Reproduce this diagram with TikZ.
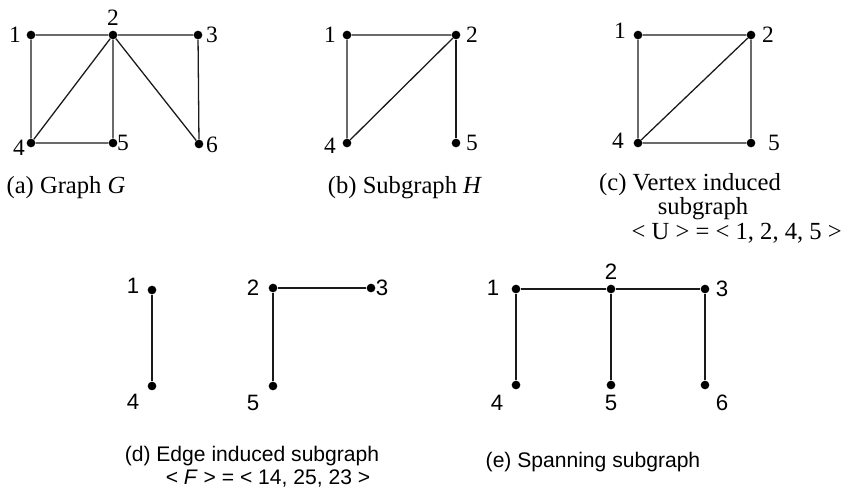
\documentclass[tikz,border=0pt]{standalone}
\usepackage{fontspec}
\setmainfont{Liberation Serif}
\setsansfont{Liberation Sans}
\usepackage{tikz}
\usetikzlibrary{positioning}
\definecolor{gInk}{HTML}{1A1A1A}
\tikzset{
  % Vertex dot
  vtx/.style={circle,fill=black,inner sep=0pt,minimum size=7.4pt},
  % Edge line
  edg/.style={line width=1.1pt,color=gInk},
  % Vertex numbers (serif, top row)
  numt/.style={inner sep=0pt,font=\fontsize{20}{24}\selectfont},
  % Vertex numbers (sans, bottom row)
  numb/.style={inner sep=0pt,font=\sffamily\fontsize{19}{22}\selectfont},
  % Captions
  capt/.style={inner sep=0pt,font=\fontsize{21}{25}\selectfont},
  capb/.style={inner sep=0pt,font=\sffamily\fontsize{18}{22}\selectfont},
}
\begin{document}
\begin{tikzpicture}[x=0.03cm,y=-0.03cm]
  \useasboundingbox (0,0) rectangle (843,499);

  % (a) graph G
  \node[vtx] (a1) at (31,35) {};
  \node[vtx] (a2) at (113,35) {};
  \node[vtx] (a3) at (198,35) {};
  \node[vtx] (a4) at (31,143) {};
  \node[vtx] (a5) at (113,143) {};
  \node[vtx] (a6) at (199,144) {};
  \node[numt] (a1l) at (15,35) {1};
  \node[numt] (a2l) at (113,18) {2};
  \node[numt] (a3l) at (212,35) {3};
  \node[numt] (a4l) at (19,148) {4};
  \node[numt] (a5l) at (123,143) {5};
  \node[numt] (a6l) at (212,145) {6};
  \draw[edg] (a1) -- (a2) -- (a3) -- (a6);
  \draw[edg] (a1) -- (a4) -- (a5) -- (a2) -- (a4);
  \draw[edg] (a2) -- (a6);
  \node[capt] (capa) at (66,188) {(a) Graph \textit{G}};

  % (b) subgraph H
  \node[vtx] (b1) at (347,35) {};
  \node[vtx] (b2) at (456,35) {};
  \node[vtx] (b4) at (347,143) {};
  \node[vtx] (b5) at (456,143) {};
  \node[numt] (b1l) at (330,35) {1};
  \node[numt] (b2l) at (472,35) {2};
  \node[numt] (b4l) at (330,146) {4};
  \node[numt] (b5l) at (472,143) {5};
  \draw[edg] (b4) -- (b1) -- (b2) -- (b4);
  \draw[edg] (b2) -- (b5);
  \node[capt] (capb) at (405,188) {(b) Subgraph \textit{H}};

  % (c) vertex induced subgraph
  \node[vtx] (c1) at (638,35) {};
  \node[vtx] (c2) at (751,35) {};
  \node[vtx] (c4) at (638,143) {};
  \node[vtx] (c5) at (751,143) {};
  \node[numt] (c1l) at (620,31) {1};
  \node[numt] (c2l) at (768,35) {2};
  \node[numt] (c4l) at (618,141) {4};
  \node[numt] (c5l) at (774,143) {5};
  \draw[edg] (c4) -- (c1) -- (c2) -- (c5) -- (c4) -- (c2);
  \node[capt] (capc1) at (690,185) {(c) Vertex induced};
  \node[capt] (capc2) at (703,209) {subgraph};
  \node[capt,anchor=east] (capc3) at (842,233) {< U > = < 1, 2, 4, 5 >};

  % (d) edge induced subgraph
  \node[vtx] (d1) at (152,290) {};
  \node[vtx] (d4) at (152,386) {};
  \node[vtx] (d2) at (273,288) {};
  \node[vtx] (d3) at (371,288) {};
  \node[vtx] (d5) at (273,386) {};
  \node[numb] (d1l) at (133,286) {1};
  \node[numb] (d4l) at (133,402) {4};
  \node[numb] (d2l) at (253,288) {2};
  \node[numb] (d3l) at (382,288) {3};
  \node[numb] (d5l) at (253,403) {5};
  \draw[edg] (d1) -- (d4);
  \draw[edg] (d3) -- (d2) -- (d5);
  \node[capb] (capd1) at (252,456) {(d) Edge induced subgraph};
  \node[capb] (capd2) at (268,478) {< \textit{F} > = < 14, 25, 23 >};

  % (e) spanning subgraph
  \node[vtx] (e1) at (516,289) {};
  \node[vtx] (e2) at (611,289) {};
  \node[vtx] (e3) at (705,289) {};
  \node[vtx] (e4) at (516,385) {};
  \node[vtx] (e5) at (611,385) {};
  \node[vtx] (e6) at (705,385) {};
  \node[numb] (e1l) at (493,288) {1};
  \node[numb] (e2l) at (611,272) {2};
  \node[numb] (e3l) at (722,289) {3};
  \node[numb] (e4l) at (497,403) {4};
  \node[numb] (e5l) at (611,403) {5};
  \node[numb] (e6l) at (722,403) {6};
  \draw[edg] (e4) -- (e1) -- (e2) -- (e3) -- (e6);
  \draw[edg] (e2) -- (e5);
  \node[capb] (cape) at (593,462) {(e) Spanning subgraph};
\end{tikzpicture}
\end{document}
